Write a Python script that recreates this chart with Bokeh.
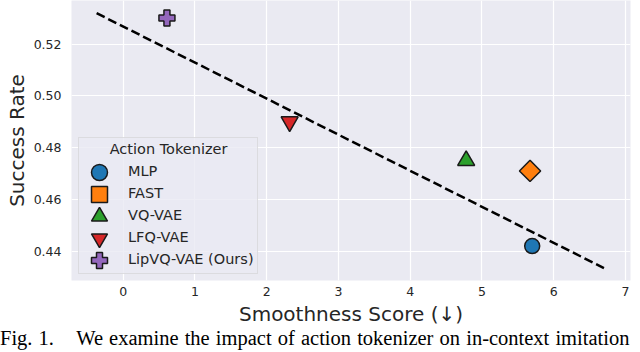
import math
from bokeh.plotting import figure
from bokeh.layouts import column
from bokeh.models import (Legend, LegendItem, FixedTicker, Range1d, ColumnDataSource,
                          CustomJSTickFormatter, Div)
from bokeh.embed import file_html
from bokeh.resources import INLINE

# ---- data ----
methods = ["MLP", "FAST", "VQ-VAE", "LFQ-VAE", "LipVQ-VAE (Ours)"]
smoothness = [5.70, 5.67, 4.78, 2.32, 0.61]
success = [0.442, 0.471, 0.475, 0.490, 0.530]
trend_x = [-0.37, 6.70]
trend_y = [0.5319, 0.4335]
x_ticks = [0, 1, 2, 3, 4, 5, 6, 7]
y_ticks = [0.44, 0.46, 0.48, 0.50, 0.52]
caption = "Fig. 1.\u2002\u2002\u200aWe examine the impact of action tokenizer on in-context imitation"

# ---- styles ----
colors = ["#1f77b4", "#ff7f0e", "#2ca02c", "#d62728", "#9467bd"]
markers = ["circle", "square", "triangle", "inverted_triangle", "plus"]
angles = [0, math.pi / 4, 0, 0, 0]
sizes = [15, 15, 17, 17, 16]
TXT = "#262626"

p = figure(width=632, height=328,
           x_range=Range1d(-0.72, 7.07), y_range=Range1d(0.4287, 0.5368),
           output_backend="svg", toolbar_location=None,
           min_border_left=71, min_border_right=2, min_border_top=0, min_border_bottom=0,
           background_fill_color="#EAEAF2", border_fill_color="white",
           outline_line_color=None)

p.grid.grid_line_color = "white"
p.grid.grid_line_width = 1.2
p.xaxis.ticker = FixedTicker(ticks=x_ticks)
p.yaxis.ticker = FixedTicker(ticks=y_ticks)
p.yaxis.formatter = CustomJSTickFormatter(code="return tick.toFixed(2);")

for ax in (p.xaxis, p.yaxis):
    ax.axis_line_color = None
    ax.major_tick_line_color = None
    ax.minor_tick_line_color = None
    ax.major_tick_out = 0
    ax.major_tick_in = 0
    ax.minor_tick_out = 0
    ax.minor_tick_in = 0
    ax.major_label_text_font = "DejaVu Sans"
    ax.major_label_text_font_size = "12.5px"
    ax.major_label_text_color = TXT
    ax.axis_label_text_font = "DejaVu Sans"
    ax.axis_label_text_font_size = "20px"
    ax.axis_label_text_font_style = "normal"
    ax.axis_label_text_color = TXT

p.xaxis.axis_label = "Smoothness Score (\u2193)"
p.yaxis.axis_label = "Success Rate"
p.xaxis.major_label_standoff = 6
p.yaxis.major_label_standoff = 10
p.xaxis.axis_label_standoff = 3
p.yaxis.axis_label_standoff = 2

renderers = []
for i, m in enumerate(methods):
    src = ColumnDataSource(dict(x=[smoothness[i]], y=[success[i]]))
    r = p.scatter("x", "y", source=src, marker=markers[i], size=sizes[i], angle=angles[i],
                  fill_color=colors[i], line_color="#1a1a1a", line_width=1.5)
    renderers.append(r)

p.line(trend_x, trend_y, line_color="black", line_width=2.5, line_dash="9 4")

# legend box: title + labels (glyphs transparent), rows 22px apart
LX, LY, PAD, ROW, GW = 7, 6, 3, 22, 36
dummy = p.scatter(x=[], y=[], fill_alpha=0, line_alpha=0)
box = Legend(items=[LegendItem(label=m, renderers=[dummy]) for m in methods],
             location=(LX, LY), title="\u00a0" * 6 + "Action Tokenizer",
             title_text_font="DejaVu Sans", title_text_font_size="14.5px",
             title_text_font_style="normal", title_text_color=TXT, title_standoff=3,
             label_text_font="DejaVu Sans", label_text_font_size="14.5px",
             label_text_color=TXT,
             glyph_width=GW, glyph_height=ROW, label_height=ROW, spacing=0,
             padding=PAD, margin=0, label_standoff=10,
             background_fill_color="#EAEAF2", background_fill_alpha=0.8,
             border_line_color="#cccccc", border_line_width=1)
p.add_layout(box)

# large legend glyphs, one per row
BIG = 40
n = len(methods)
for i, r in enumerate(renderers):
    k = n - 1 - i
    cy = LY + PAD + ROW / 2 + ROW * k
    cx = LX + PAD + GW / 2
    lg = Legend(items=[LegendItem(label="", renderers=[r])],
                location=(int(round(cx - BIG / 2)), int(round(cy - BIG / 2))),
                glyph_width=BIG, glyph_height=BIG, padding=0, margin=0,
                label_standoff=0, label_width=0, label_height=0, spacing=0,
                background_fill_alpha=0, border_line_color=None)
    p.add_layout(lg)

cap = Div(text=caption, width=632, height=20,
          styles={"font-family": "'Liberation Serif', 'Times New Roman', serif",
                  "font-size": "20.5px", "line-height": "20px", "white-space": "nowrap",
                  "word-spacing": "1px", "color": "black", "margin": "0"})

layout = column(p, cap, spacing=0)
open("out.html", "w").write(file_html(layout, INLINE))
